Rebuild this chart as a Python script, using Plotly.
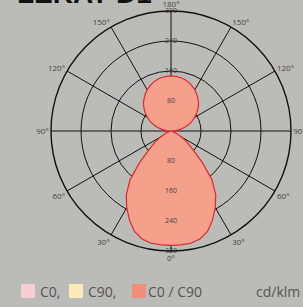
import plotly.graph_objects as go

# Luminous intensity distribution (cd/klm), gamma angle 0 = down, 180 = up
gamma = [0, 5, 10, 15, 20, 25, 30, 35, 40, 45, 50, 55, 60, 65, 70, 75, 80, 85, 90,
         95, 100, 105, 110, 115, 120, 125, 130, 135, 140, 145, 150, 155, 160, 165, 170, 175, 180]
c0_c90 = [305, 305, 304, 298, 285, 262, 236, 208, 170, 118, 76, 52, 33, 18, 9, 4, 2, 1, 0,
          13, 25, 38, 50, 62, 73, 84, 94, 104, 112, 120, 127, 133, 138, 142, 145, 146, 147]

radial_ticks = [80, 160, 240, 320]
angle_ticks = [0, 30, 60, 90, 120, 150, 180, 210, 240, 270, 300, 330]
angle_labels = ["0°", "30°", "60°", "90°", "120°", "150°", "180°", "150°", "120°", "90°", "60°", "30°"]

legend_labels = ["C0,", "C90,", "C0 / C90"]
legend_colors = ["#F6CDD4", "#FCE9B8", "#F0907C"]
unit_label = "cd/klm"

BG = "#BBBBB7"

# mirror the half-plane data to full circle
theta = gamma + [360 - g for g in reversed(gamma)]
r = c0_c90 + list(reversed(c0_c90))

fig = go.Figure()
fig.add_trace(go.Scatterpolar(
    r=r, theta=theta, mode="lines", fill="toself",
    fillcolor="#F4A08B", line=dict(color="#E3262E", width=1.2),
    hoverinfo="skip", showlegend=False))

# radial tick labels along the vertical axis (up and down)
for ang in (0, 180):
    fig.add_trace(go.Scatterpolar(
        r=radial_ticks, theta=[ang] * len(radial_ticks), mode="text",
        text=[str(v) for v in radial_ticks],
        textfont=dict(size=7, color="#444444", family="Open Sans"),
        hoverinfo="skip", showlegend=False))

fig.update_layout(
    width=303, height=307,
    margin=dict(l=0, r=0, t=0, b=0),
    paper_bgcolor=BG, plot_bgcolor=BG,
    polar=dict(
        domain=dict(x=[51 / 303, 291 / 303], y=[56 / 307, 296 / 307]),
        bgcolor=BG,
        radialaxis=dict(range=[0, 320], tickvals=radial_ticks, showticklabels=False,
                        ticks="", showline=False, gridcolor="#111111", gridwidth=1.2),
        angularaxis=dict(rotation=-90, direction="clockwise",
                         tickvals=angle_ticks, ticktext=angle_labels, ticks="",
                         tickfont=dict(size=8, color="#444444", family="Open Sans"),
                         showline=True, linecolor="#111111", linewidth=1.4,
                         gridcolor="#111111", gridwidth=1.2),
    ),
)

# Title, cut off at the top edge
fig.add_annotation(text="<b>LEKAT D1</b>", x=15 / 303, y=1 - 11 / 307, xref="paper", yref="paper",
                   xanchor="left", yanchor="bottom", showarrow=False,
                   font=dict(size=28, color="#111111", family="Liberation Sans"))

# Legend row
sq_x = [21, 69, 132]
txt_x = [38, 86, 146]
ly = 291
for sx, tx, lab, col in zip(sq_x, txt_x, legend_labels, legend_colors):
    fig.add_shape(type="rect", xref="paper", yref="paper",
                  x0=sx / 303, x1=(sx + 14) / 303,
                  y0=1 - (ly + 7) / 307, y1=1 - (ly - 7) / 307,
                  fillcolor=col, line=dict(width=0))
    fig.add_annotation(text=lab, x=tx / 303, y=1 - ly / 307, xref="paper", yref="paper",
                       xanchor="left", yanchor="middle", showarrow=False,
                       font=dict(size=14, color="#555555", family="Open Sans"))
fig.add_annotation(text=unit_label, x=302 / 303, y=1 - ly / 307, xref="paper", yref="paper",
                   xanchor="right", yanchor="middle", showarrow=False,
                   font=dict(size=14, color="#555555", family="Open Sans"))

fig.write_html("out.html", config={"displayModeBar": False},
               post_script="document.body.style.margin='0';document.body.style.background='%s';" % BG)
